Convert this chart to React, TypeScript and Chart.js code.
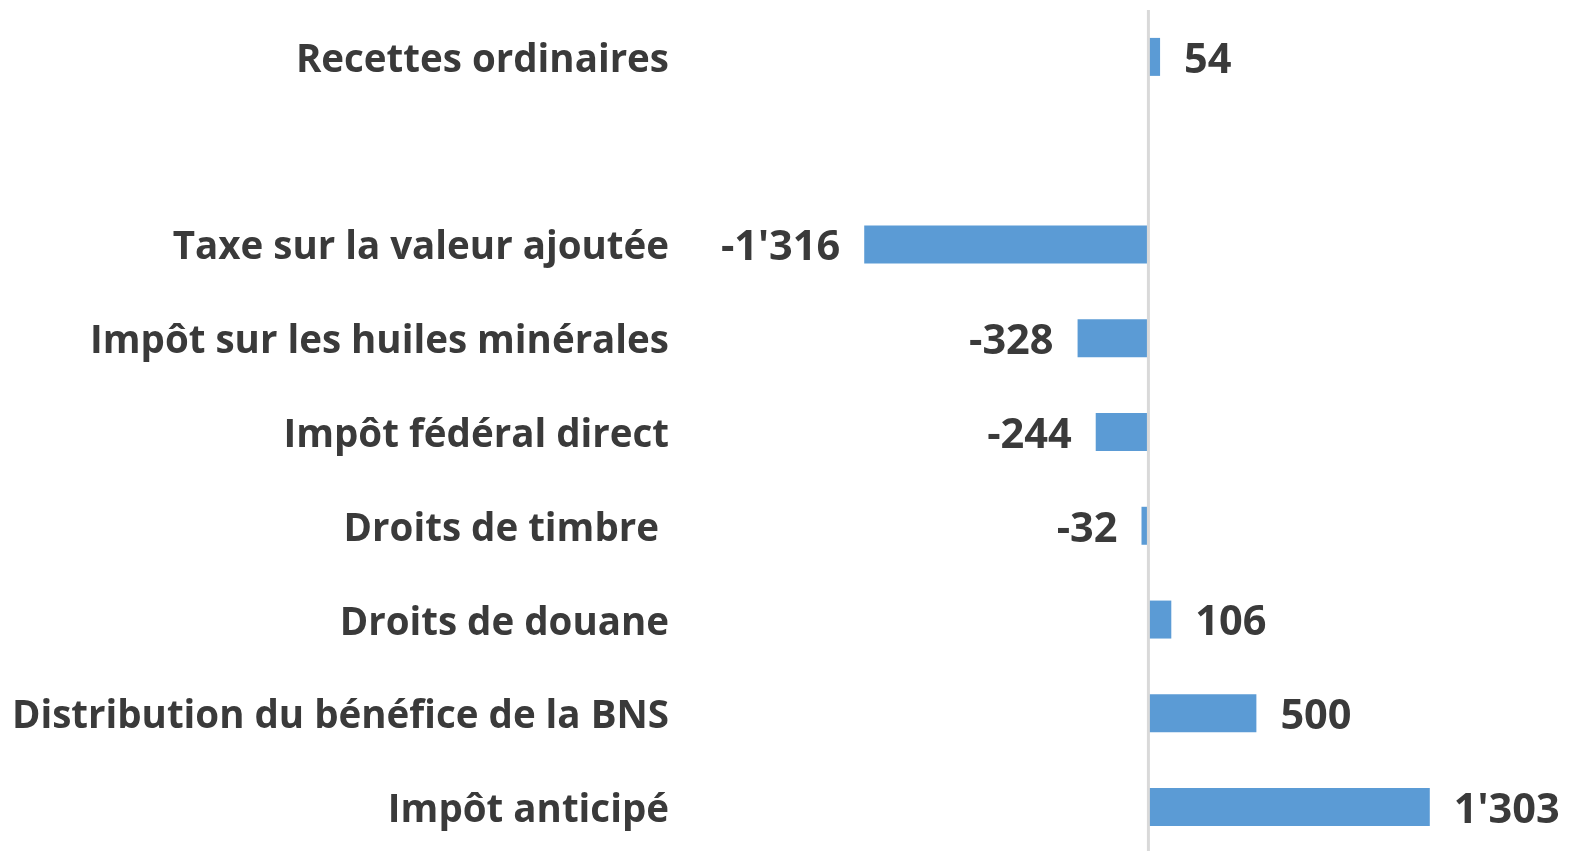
import React, { useEffect, useRef } from "react";
import { Chart, registerables } from "chart.js";

Chart.register(...registerables);

const categories: string[] = [
  "Recettes ordinaires",
  "",
  "Taxe sur la valeur ajoutée",
  "Impôt sur les huiles minérales",
  "Impôt fédéral direct",
  "Droits de timbre ",
  "Droits de douane",
  "Distribution du bénéfice de la BNS",
  "Impôt anticipé",
];

const values: (number | null)[] = [54, null, -1316, -328, -244, -32, 106, 500, 1303];

const BAR_COLOR = "#5B9BD5";
const TEXT_COLOR = "#3a3a3a";
const FONT_FAMILY = "'Open Sans', sans-serif";
const LABEL_SIZE = 38.5;
const VALUE_SIZE = 41.5;

function fmt(v: number): string {
  const s = Math.abs(v).toString().replace(/\B(?=(\d{3})+(?!\d))/g, "'");
  return (v < 0 ? "-" : "") + s;
}

const labelPlugin = {
  id: "valueLabels",
  afterDatasetsDraw(chart: any) {
    const { ctx, chartArea, scales } = chart;
    const x0 = scales.x.getPixelForValue(0);
    ctx.save();
    ctx.strokeStyle = "#d9d9d9";
    ctx.lineWidth = 3;
    ctx.beginPath();
    ctx.moveTo(x0, chartArea.top);
    ctx.lineTo(x0, chartArea.bottom + 10);
    ctx.stroke();
    ctx.restore();

    const meta = chart.getDatasetMeta(0);
    ctx.save();
    ctx.font = `bold ${VALUE_SIZE}px ${FONT_FAMILY}`;
    ctx.fillStyle = TEXT_COLOR;
    ctx.textBaseline = "middle";
    meta.data.forEach((el: any, i: number) => {
      const v = values[i];
      if (v === null || v === undefined) return;
      const gap = 24;
      if (v >= 0) {
        ctx.textAlign = "left";
        ctx.fillText(fmt(v), el.x + gap, el.y + 4);
      } else {
        ctx.textAlign = "right";
        ctx.fillText(fmt(v), el.x - gap, el.y + 4);
      }
    });
    ctx.restore();
  },
};

export default function App() {
  const ref = useRef<HTMLCanvasElement | null>(null);
  useEffect(() => {
    if (!ref.current) return;
    const chart = new Chart(ref.current, {
      type: "bar",
      data: {
        labels: categories,
        datasets: [
          {
            data: values as any,
            backgroundColor: BAR_COLOR,
            borderWidth: 0,
            barPercentage: 0.405,
            categoryPercentage: 1,
          },
        ],
      },
      options: {
        indexAxis: "y",
        animation: false,
        responsive: false,
        maintainAspectRatio: false,
        devicePixelRatio: 1,
        layout: { padding: { top: 10, right: 3, bottom: 0, left: 0 } },
        plugins: { legend: { display: false }, tooltip: { enabled: false } },
        scales: {
          x: { display: false, min: -2007, max: 1943 },
          y: {
            grid: { display: false, drawTicks: false },
            border: { display: false },
            ticks: {
              padding: 46,
              labelOffset: 4,
              color: TEXT_COLOR,
              font: { family: FONT_FAMILY, size: LABEL_SIZE, weight: "bold" },
              autoSkip: false,
            },
            afterFit(scale: any) {
              scale.width = 715;
              scale.paddingTop = 0;
              scale.paddingBottom = 0;
            },
          },
        },
      },
      plugins: [labelPlugin],
    });
    return () => chart.destroy();
  }, []);
  return (
    <div style={{ position: "absolute", left: 0, top: 0, width: 1571, height: 851, overflow: "hidden", background: "#fff" }}>
      <canvas ref={ref} width={1571} height={854} style={{ display: "block" }} />
    </div>
  );
}
